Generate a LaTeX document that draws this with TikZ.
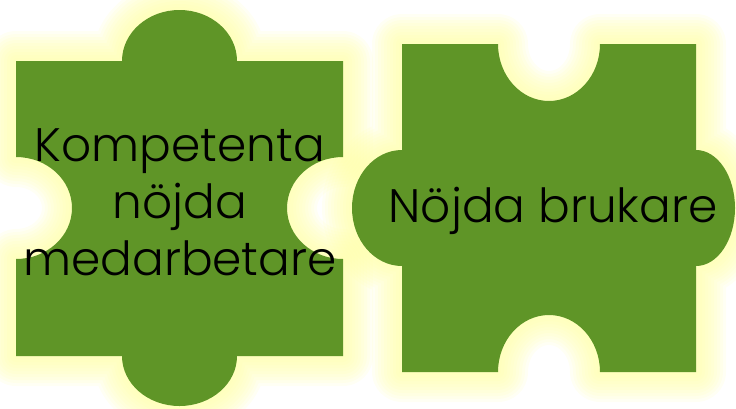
\documentclass[tikz,border=0pt]{standalone}
\usepackage{fontspec}
\setmainfont{Poppins}[UprightFont=* Light]
\usetikzlibrary{positioning}
\definecolor{piecegreen}{RGB}{95,149,39}
\definecolor{glowyellow}{RGB}{255,255,165}

% outlines of the two puzzle pieces (units: pt, y downwards)
\newcommand{\leftpiece}{(16,61) -- (122,61)
   arc[start angle=180, end angle=0, x radius=57.5pt, y radius=51pt]
   -- (343,61) -- (343,157)
   arc[start angle=90, end angle=270, x radius=56pt, y radius=51pt]
   -- (343,356) -- (237,356)
   arc[start angle=0, end angle=-180, x radius=57.5pt, y radius=50pt]
   -- (16,356) -- (16,259)
   arc[start angle=-90, end angle=90, x radius=56pt, y radius=51pt]
   -- cycle}
\newcommand{\rightpiece}{(402,44) -- (498,44)
   arc[start angle=180, end angle=360, x radius=51pt, y radius=57pt]
   -- (696,44) -- (696,150)
   arc[start angle=90, end angle=-90, x radius=39pt, y radius=58pt]
   -- (696,372) -- (600,372)
   arc[start angle=0, end angle=180, x radius=51pt, y radius=57pt]
   -- (402,372) -- (402,266)
   arc[start angle=270, end angle=90, x radius=50pt, y radius=58pt]
   -- cycle}

\begin{document}
\begin{tikzpicture}[x=1pt,y=-1pt,
         glow/.style = {draw=glowyellow,opacity=0.12,line join=round},
         piece/.style = {fill=piecegreen},
         piecetext/.style = {text=black,align=center,
            font=\fontsize{47}{57}\selectfont}
]
   \useasboundingbox (0,0) rectangle (736,408);

   \foreach \w in {6,12,...,60}{
      \draw[glow,line width=\w pt] \leftpiece;
      \draw[glow,line width=\w pt] \rightpiece;
   }
   \fill[piece] \leftpiece;
   \fill[piece] \rightpiece;

   \node[piecetext] (lefttext) at (180,202) {Kompetenta\\nöjda\\medarbetare};
   \node[piecetext,anchor=base] (righttext) at (553,222) {Nöjda brukare};
\end{tikzpicture}
\end{document}
